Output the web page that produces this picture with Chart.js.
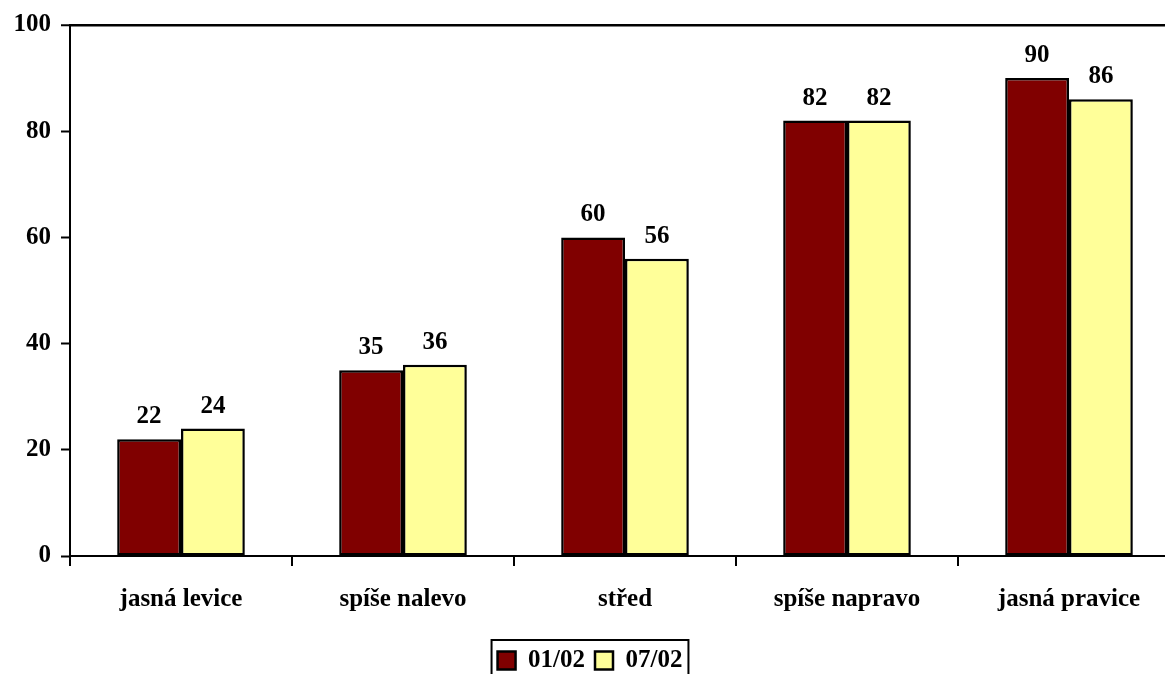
<!DOCTYPE html>
<html>
<head>
<meta charset="utf-8">
<script src="https://cdn.jsdelivr.net/npm/chart.js@4/dist/chart.umd.min.js"></script>
<style>
  html, body { margin: 0; padding: 0; background: #fff; overflow: hidden; }
  #wrap { width: 1180px; height: 690px; position: relative; }
</style>
</head>
<body>
<div id="wrap"><canvas id="chartOrientace"></canvas></div>
<script>
// kategorie a hodnoty
const kategorie = ["jasná levice", "spíše nalevo", "střed", "spíše napravo", "jasná pravice"];
const rada0102 = [22, 35, 60, 82, 90];
const rada0702 = [24, 36, 56, 82, 86];
const popiskyRad = ["01/02", "07/02"];
const ticksY = [0, 20, 40, 60, 80, 100];

const FONT = "'Liberation Serif', 'Times New Roman', serif";
const VELIKOST = 25;

/* popisky hodnot nad sloupci */
const hodnotyPlugin = {
  id: "hodnoty",
  afterDatasetsDraw(chart) {
    const ctx = chart.ctx;
    ctx.save();
    ctx.font = "bold " + VELIKOST + "px " + FONT;
    ctx.fillStyle = "#000";
    ctx.textAlign = "center";
    ctx.textBaseline = "alphabetic";
    chart.data.datasets.forEach((ds, i) => {
      chart.getDatasetMeta(i).data.forEach((bar, j) => {
        ctx.fillText(ds.data[j], bar.x, bar.y - 16);
      });
    });
    ctx.restore();
  }
};

/* ramecek kolem legendy */
const ramecekLegendy = {
  id: "ramecek",
  afterDraw(chart) {
    const lg = chart.legend;
    const boxy = lg.legendHitBoxes;
    if (!boxy || !boxy.length) return;
    const l = Math.min(...boxy.map((b) => b.left)) - 6;
    const r = Math.max(...boxy.map((b) => b.left + b.width)) + 6;
    const ctx = chart.ctx;
    ctx.save();
    ctx.strokeStyle = "#000";
    ctx.lineWidth = 2;
    ctx.strokeRect(l, lg.top + 2, r - l, lg.height + 30);
    ctx.restore();
  }
};

const ctxOrientace = document.getElementById("chartOrientace").getContext("2d");

const chartOrientace = new Chart(ctxOrientace, {
  type: "bar",
  data: {
    labels: kategorie,
    datasets: [
      {
        label: popiskyRad[0],
        data: rada0102,
        backgroundColor: "#800000",
        borderColor: "#000",
        borderWidth: 2.5,
        borderSkipped: false,
      },
      {
        label: popiskyRad[1],
        data: rada0702,
        backgroundColor: "#FFFF99",
        borderColor: "#000",
        borderWidth: 2.5,
        borderSkipped: false,
      },
    ],
  },
  options: {
    responsive: true,
    maintainAspectRatio: false,
    animation: false,
    layout: { padding: { top: 24, left: 0, right: 0, bottom: 7 } },
    datasets: { bar: { categoryPercentage: 0.575, barPercentage: 1 } },
    plugins: {
      tooltip: { enabled: false },
      legend: {
        position: "bottom",
        labels: {
          font: { family: FONT, size: VELIKOST, weight: "bold" },
          color: "#000",
          boxWidth: 18,
          boxHeight: 18,
          padding: 10,
        },
      },
    },
    scales: {
      x: {
        afterFit: (scale) => { scale.height = 82; },
        grid: {
          offset: true,
          drawOnChartArea: false,
          color: "#000",
          tickLength: 10,
          lineWidth: 2,
        },
        border: { color: "#000", width: 2 },
        ticks: {
          color: "#000",
          padding: 19,
          font: { family: FONT, size: VELIKOST, weight: "bold" },
        },
      },
      y: {
        min: 0,
        max: 100,
        afterFit: (scale) => { scale.width = 70; },
        afterBuildTicks: (scale) => { scale.ticks = ticksY.map((v) => ({ value: v })); },
        grid: {
          color: (c) => (c.tick && c.tick.value === 100 ? "#000" : "rgba(0,0,0,0)"),
          lineWidth: (c) => (c.tick && c.tick.value === 100 ? 2.5 : 1),
          tickColor: "#000",
          tickWidth: 2,
          tickLength: 9,
        },
        border: { color: "#000", width: 2 },
        ticks: {
          color: "#000",
          padding: 10,
          font: { family: FONT, size: VELIKOST, weight: "bold" },
        },
      },
    },
  },
  plugins: [hodnotyPlugin, ramecekLegendy],
});
</script>
</body>
</html>
